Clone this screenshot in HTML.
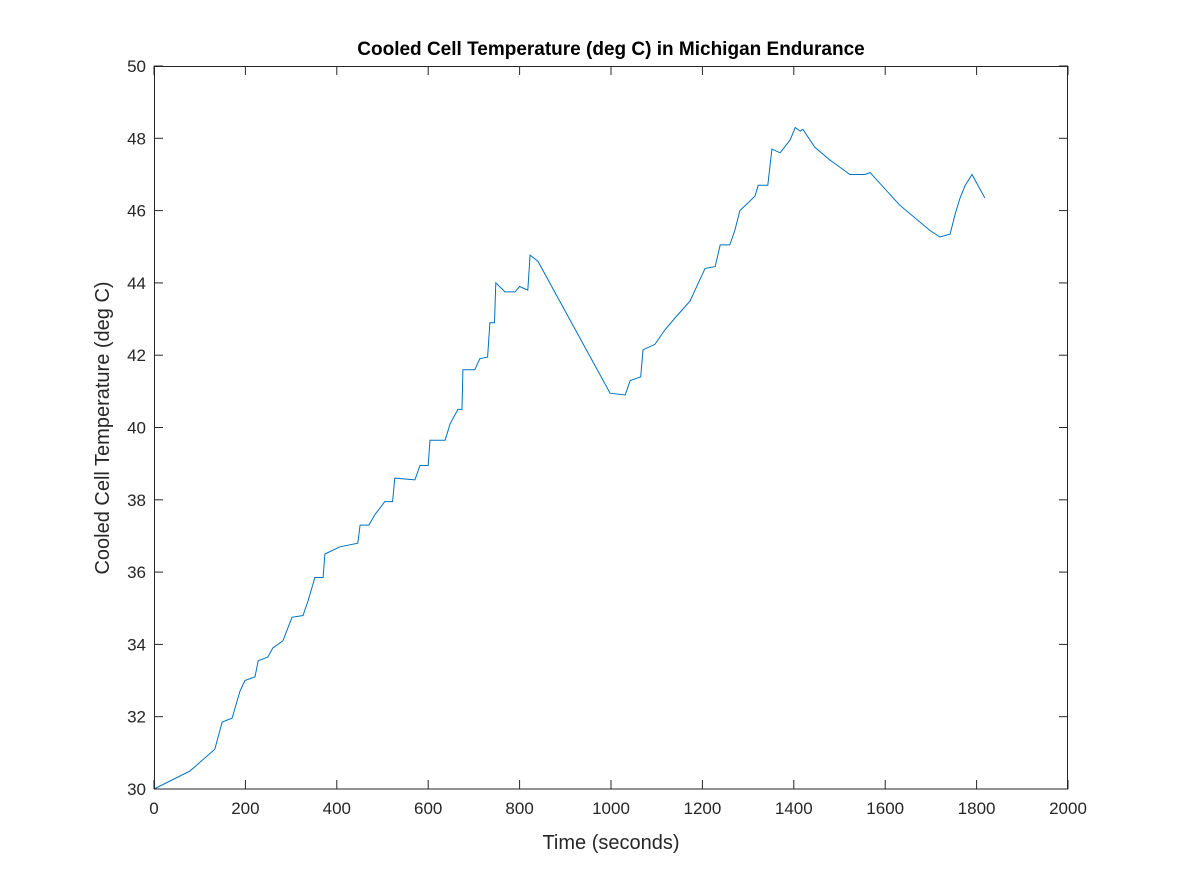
<!DOCTYPE html>
<html><head><meta charset="utf-8"><style>
html,body{margin:0;padding:0;background:#fff;}
svg{display:block;font-family:"Liberation Sans",Arial,sans-serif;}
</style></head><body>
<svg id="chart" width="1181" height="886">
<rect x="0" y="0" width="1181" height="886" fill="#fff"/>
<rect x="154" y="66" width="914" height="723" fill="#fff" stroke="none"/>
<g id="ticks"></g>
<path id="line" fill="none" stroke="#0072bd" stroke-width="1"/>
<rect x="154.5" y="66.5" width="913" height="722.5" fill="none" stroke="#262626" stroke-width="1"/>
<text x="611" y="55" text-anchor="middle" font-size="19" font-weight="bold" fill="#000">Cooled Cell Temperature (deg C) in Michigan Endurance</text>
<text x="611" y="849" text-anchor="middle" font-size="20" fill="#262626">Time (seconds)</text>
<text transform="translate(109,428) rotate(-90)" text-anchor="middle" font-size="20" fill="#262626">Cooled Cell Temperature (deg C)</text>
</svg>
<script>
const xTicks=[0,200,400,600,800,1000,1200,1400,1600,1800,2000];
const yTicks=[30,32,34,36,38,40,42,44,46,48,50];
const times=[0,79,133,149,171,188,199,221,228,249,260,282,302,326,337,352,370,374,407,446,451,470,484,505,522,527,571,582,600,604,637,648,665,674,676,702,713,730,735,745,748,768,790,800,818,823,840,998,1031,1042,1065,1070,1096,1118,1140,1173,1184,1206,1228,1239,1260,1271,1282,1315,1322,1343,1352,1370,1392,1403,1414,1420,1446,1479,1523,1556,1567,1632,1698,1720,1742,1753,1764,1775,1790,1818];
const temps=[30,30.5,31.1,31.85,31.96,32.7,33.0,33.1,33.55,33.65,33.9,34.1,34.75,34.8,35.2,35.85,35.85,36.5,36.7,36.8,37.3,37.3,37.6,37.95,37.95,38.6,38.55,38.95,38.95,39.65,39.65,40.1,40.5,40.5,41.6,41.6,41.9,41.95,42.9,42.9,44.0,43.75,43.75,43.9,43.8,44.77,44.6,40.95,40.9,41.3,41.4,42.15,42.3,42.7,43.03,43.5,43.8,44.4,44.45,45.05,45.05,45.45,46.0,46.4,46.7,46.7,47.7,47.6,47.95,48.3,48.2,48.25,47.75,47.4,47.0,47.0,47.05,46.15,45.45,45.27,45.35,45.9,46.35,46.7,47.0,46.35];
const X=t=>154+t*0.457;
const Y=v=>789-(v-30)*36.15;
const svg=document.getElementById('chart');
const g=document.getElementById('ticks');
const NS='http://www.w3.org/2000/svg';
xTicks.forEach(t=>{
  const l=document.createElementNS(NS,'line');
  l.setAttribute('x1',X(t));l.setAttribute('x2',X(t));l.setAttribute('y1',789);l.setAttribute('y2',780);
  l.setAttribute('stroke','#262626');
  
  
  g.appendChild(l);
  const l2=document.createElementNS(NS,'line');
  l2.setAttribute('x1',X(t));l2.setAttribute('x2',X(t));l2.setAttribute('y1',66);l2.setAttribute('y2',75);
  l2.setAttribute('stroke','#262626');
  
  
  g.appendChild(l2);
  const tx=document.createElementNS(NS,'text');
  tx.setAttribute('x',X(t));tx.setAttribute('y',814);tx.setAttribute('text-anchor','middle');
  tx.setAttribute('font-size','17');tx.setAttribute('fill','#262626');
  tx.textContent=t;
  
  
  g.appendChild(tx);
});
yTicks.forEach(v=>{
  const l=document.createElementNS(NS,'line');
  l.setAttribute('x1',154);l.setAttribute('x2',163);l.setAttribute('y1',Y(v));l.setAttribute('y2',Y(v));
  l.setAttribute('stroke','#262626');
  
  
  g.appendChild(l);
  const l2=document.createElementNS(NS,'line');
  l2.setAttribute('x1',1059);l2.setAttribute('x2',1068);l2.setAttribute('y1',Y(v));l2.setAttribute('y2',Y(v));
  l2.setAttribute('stroke','#262626');
  
  
  g.appendChild(l2);
  const tx=document.createElementNS(NS,'text');
  tx.setAttribute('x',146);tx.setAttribute('y',Y(v)+6);tx.setAttribute('text-anchor','end');
  tx.setAttribute('font-size','17');tx.setAttribute('fill','#262626');
  tx.textContent=v;
  
  
  g.appendChild(tx);
});
let d='';
times.forEach((t,i)=>{d+=(i?'L':'M')+X(t).toFixed(1)+' '+Y(temps[i]).toFixed(1)+' ';});
document.getElementById('line').setAttribute('d',d);
</script>
</body></html>
